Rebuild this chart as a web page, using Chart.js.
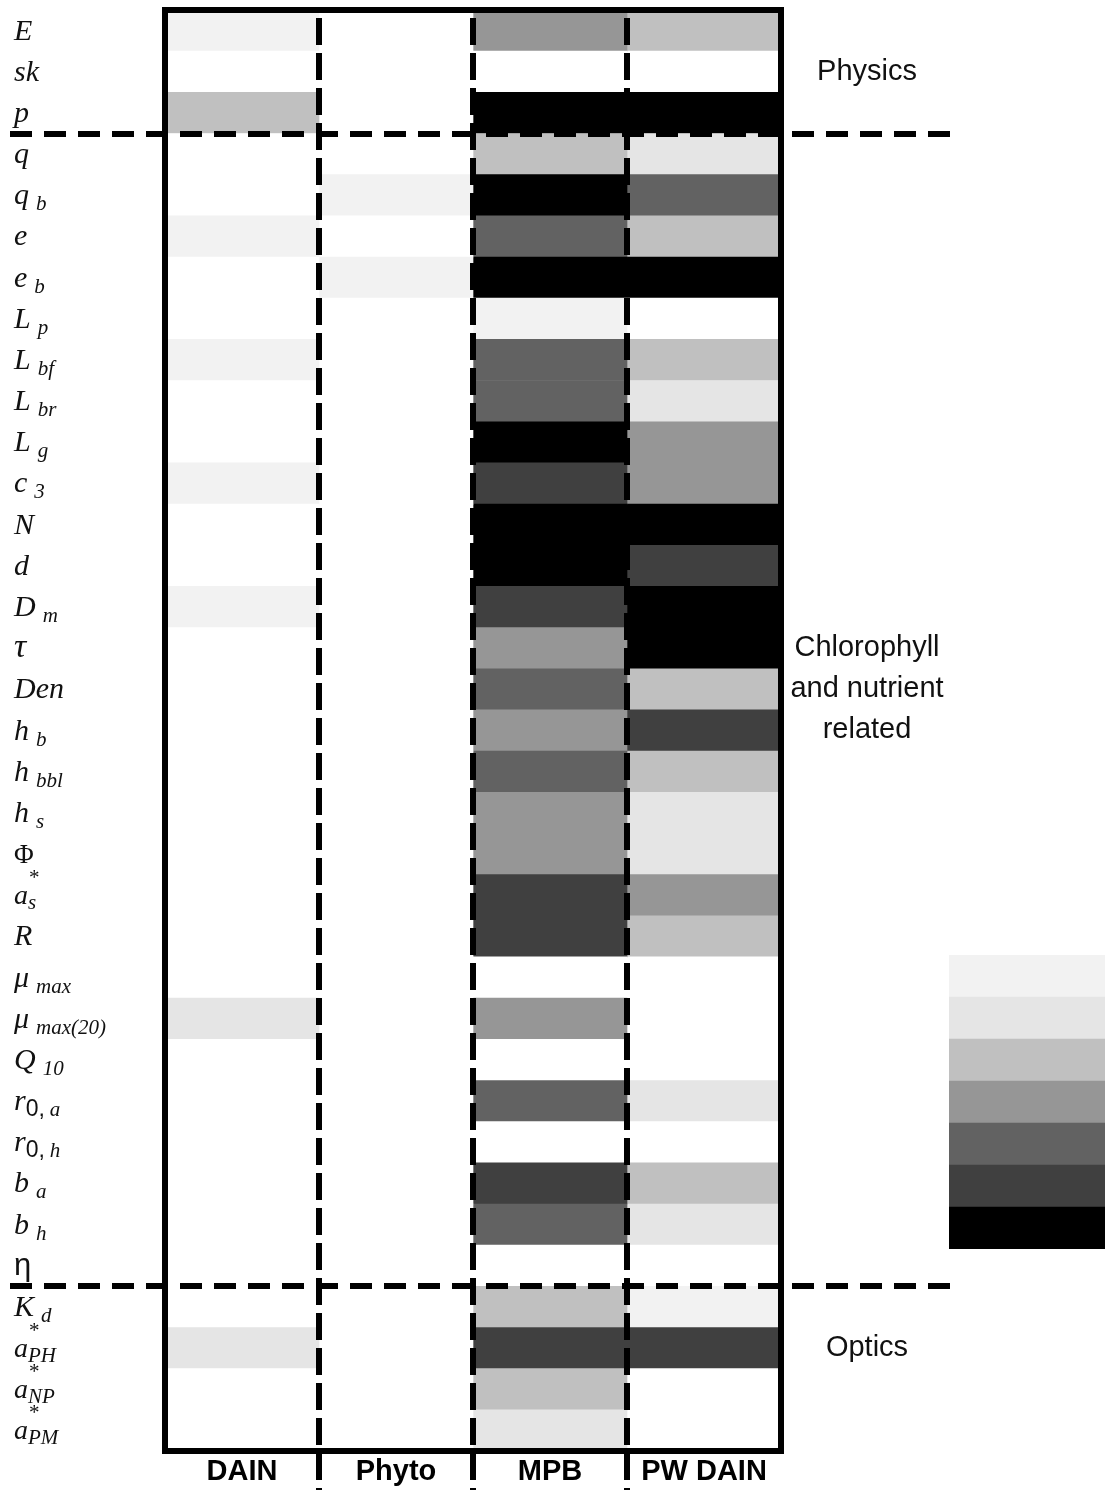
<!DOCTYPE html>
<html>
<head>
<meta charset="utf-8">
<title>Parameter sensitivity</title>
<script src="https://cdn.jsdelivr.net/npm/chart.js@4.4.1/dist/chart.umd.min.js"></script>
<style>
    html, body { margin: 0; padding: 0; background: #fff; }
    #wrap { position: relative; width: 1109px; height: 1490px; }
    #heat { position: absolute; left: 0; top: 0; }
    #scale { position: absolute; left: 949px; top: 955px; }
</style>
</head>
<body>
<div id="wrap">
    <canvas id="heat" width="1109" height="1490"></canvas>
    <canvas id="scale" width="156" height="294"></canvas>
</div>
<script>
// Parametros (filas) y modelos (columnas)
const rowLabels = [
    'E', 'sk', 'p', 'q', 'q_b', 'e', 'e_b', 'L_p', 'L_bf', 'L_br', 'L_g', 'c_3',
    'N', 'd', 'D_m', 'τ', 'Den', 'h_b', 'h_bbl', 'h_s', 'Φ', 'a*_s', 'R',
    'μ_max', 'μ_max(20)', 'Q_10', 'r_0,a', 'r_0,h', 'b_a', 'b_h', 'η',
    'K_d', 'a*_PH', 'a*_NP', 'a*_PM'
];
const columnLabels = ['DAIN', 'Phyto', 'MPB', 'PW DAIN'];

// Nivel de sensibilidad por celda: 0 = nada, 7 = maximo
const dainLevels   = [1,0,3,0,0,1,0,0,1,0,0,1,0,0,1,0,0,0,0,0,0,0,0,0,2,0,0,0,0,0,0,0,2,0,0];
const phytoLevels  = [0,0,0,0,1,0,1,0,0,0,0,0,0,0,0,0,0,0,0,0,0,0,0,0,0,0,0,0,0,0,0,0,0,0,0];
const mpbLevels    = [4,0,7,3,7,5,7,1,5,5,7,6,7,7,6,4,5,4,5,4,4,6,6,0,4,0,5,0,6,5,0,3,6,3,2];
const pwDainLevels = [3,0,7,2,5,3,7,0,3,2,4,4,7,6,7,7,3,6,3,2,2,4,3,0,0,0,2,0,3,2,0,1,6,0,0];

// Escala de grises de la leyenda
const shades = ['#ffffff', '#f2f2f2', '#e5e5e5', '#c0c0c0', '#969696', '#626262', '#404040', '#000000'];
const legendLevels = [1, 2, 3, 4, 5, 6, 7];

// Bloques de parametros: fila donde empieza cada uno y texto lateral
const sectionStarts = [3, 31];
const sectionNotes = [
    { row: 1, lines: ['Physics'] },
    { row: 16, lines: ['Chlorophyll', 'and nutrient', 'related'] },
    { row: 32, lines: ['Optics'] }
];

const levelsByColumn = [dainLevels, phytoLevels, mpbLevels, pwDainLevels];

/**
 * Dibuja una etiqueta de parametro con subindice / asterisco
 */
function drawRowLabel(ctx, text, x, yMid) {
    let parts = text.split('_');
    let base = parts[0];
    let sub = parts.length > 1 ? parts.slice(1).join('_') : '';
    const star = base.endsWith('*');
    if (star) base = base.slice(0, -1);

    const baseline = yMid + 9;
    ctx.textBaseline = 'alphabetic';
    ctx.textAlign = 'left';
    ctx.fillStyle = '#111';

    if (base === 'η') ctx.font = '31px "Liberation Sans"';
    else if (base === 'Φ') ctx.font = '27px "Liberation Serif"';
    else if (base === 'τ') ctx.font = 'italic 34px "Liberation Serif"';
    else if (star) ctx.font = 'italic 28px "Liberation Serif"';
    else ctx.font = 'italic 30px "Liberation Serif"';
    ctx.fillText(base, x, baseline);
    let cx = x + ctx.measureText(base).width;
    if (!sub) return;

    if (star) {
        // a* con subindice pegado
        ctx.font = '21px "Liberation Serif"';
        ctx.fillText('*', cx + 1, baseline - 20);
        ctx.font = 'italic 21px "Liberation Serif"';
        ctx.fillText(sub, cx, baseline + 5);
        return;
    }

    if (/^\d,/.test(sub)) {
        // r_{0,a}: numero recto, letra cursiva
        ctx.font = '23px "Liberation Sans"';
        const head = sub.slice(0, 2);
        ctx.fillText(head, cx, baseline + 6);
        cx += ctx.measureText(head).width + 5;
        ctx.font = 'italic 21px "Liberation Serif"';
        ctx.fillText(sub.slice(2), cx, baseline + 6);
        return;
    }

    ctx.font = 'italic 21px "Liberation Serif"';
    ctx.fillText(sub, cx + 7, baseline + 6);
}

// Marco, lineas discontinuas y textos
const framePlugin = {
    id: 'frame',
    afterDatasetsDraw(chart) {
        const ctx = chart.ctx;
        const area = chart.chartArea;
        const xs = chart.scales.x;
        const ys = chart.scales.y;
        ctx.save();

        // separadores verticales entre modelos
        ctx.strokeStyle = '#000';
        ctx.lineWidth = 6;
        ctx.setLineDash([27, 8]);
        ctx.lineDashOffset = -8;
        for (let c = 1; c < columnLabels.length; c++) {
            const x = Math.round(xs.getPixelForValue(c));
            ctx.beginPath();
            ctx.moveTo(x, area.top);
            ctx.lineTo(x, chart.height);
            ctx.stroke();
        }

        // separadores horizontales entre bloques
        ctx.setLineDash([22, 12]);
        ctx.lineDashOffset = 0;
        sectionStarts.forEach(r => {
            const y = Math.round((ys.getPixelForValue(r - 1) + ys.getPixelForValue(r)) / 2);
            ctx.beginPath();
            ctx.moveTo(10, y);
            ctx.lineTo(952, y);
            ctx.stroke();
        });

        // marco exterior
        ctx.setLineDash([]);
        ctx.lineWidth = 6;
        ctx.strokeRect(area.left, area.top, area.right - area.left, area.bottom - area.top);

        // etiquetas de filas
        rowLabels.forEach((label, i) => {
            drawRowLabel(ctx, label, 14, ys.getPixelForValue(i));
        });

        // etiquetas de columnas
        ctx.fillStyle = '#000';
        ctx.font = 'bold 29px "Liberation Sans"';
        ctx.textAlign = 'center';
        ctx.textBaseline = 'middle';
        columnLabels.forEach((label, c) => {
            ctx.fillText(label, xs.getPixelForValue(c + 0.5), 1472);
        });

        // textos de cada bloque
        ctx.font = '29px "Liberation Sans"';
        ctx.fillStyle = '#111';
        sectionNotes.forEach(note => {
            const yc = ys.getPixelForValue(note.row);
            const first = yc - (note.lines.length - 1) * 41 / 2;
            note.lines.forEach((line, k) => {
                ctx.fillText(line, 867, first + k * 41);
            });
        });

        ctx.restore();
    }
};

document.addEventListener('DOMContentLoaded', function() {
    // Mapa de calor: una serie de barras flotantes por modelo
    const datasets = columnLabels.map((name, c) => ({
        label: name,
        data: levelsByColumn[c].map(() => [c, c + 1]),
        backgroundColor: levelsByColumn[c].map(v => shades[v]),
        borderWidth: 0,
        barPercentage: 1,
        categoryPercentage: 1,
        grouped: false
    }));

    new Chart(document.getElementById('heat'), {
        type: 'bar',
        data: { labels: rowLabels, datasets: datasets },
        options: {
            indexAxis: 'y',
            responsive: false,
            animation: false,
            layout: { padding: { left: 165, right: 328, top: 10, bottom: 39 } },
            scales: {
                x: { type: 'linear', min: 0, max: columnLabels.length, display: false },
                y: { display: false }
            },
            plugins: {
                legend: { display: false },
                tooltip: { enabled: false }
            }
        },
        plugins: [framePlugin]
    });

    // Barra de escala de grises
    new Chart(document.getElementById('scale'), {
        type: 'bar',
        data: {
            labels: legendLevels.map(String),
            datasets: [{
                data: legendLevels.map(() => [0, 1]),
                backgroundColor: legendLevels.map(v => shades[v]),
                borderWidth: 0,
                barPercentage: 1,
                categoryPercentage: 1
            }]
        },
        options: {
            indexAxis: 'y',
            responsive: false,
            animation: false,
            scales: {
                x: { type: 'linear', min: 0, max: 1, display: false },
                y: { display: false }
            },
            plugins: {
                legend: { display: false },
                tooltip: { enabled: false }
            }
        }
    });
});
</script>
</body>
</html>
